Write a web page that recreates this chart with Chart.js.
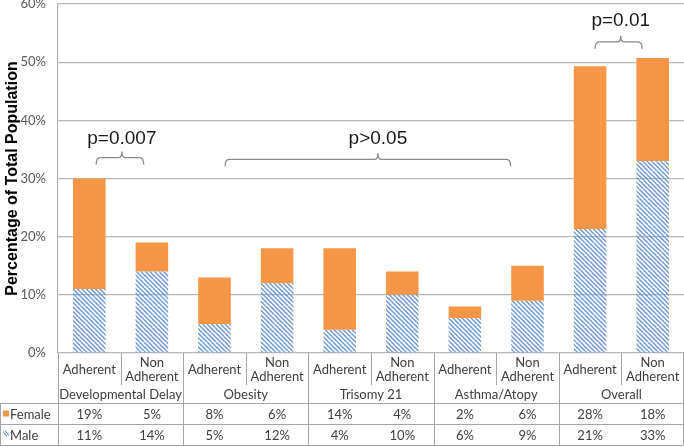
<!DOCTYPE html>
<html>
<head>
<meta charset="utf-8">
<script src="https://cdn.jsdelivr.net/npm/chart.js@4"></script>
<style>
  html, body { margin: 0; padding: 0; background: #fff; }
  canvas { display: block; }
</style>
</head>
<body>
<canvas id="chart" width="684" height="447"></canvas>
<script>
// data
const groups = ['Developmental Delay', 'Obesity', 'Trisomy 21', 'Asthma/Atopy', 'Overall'];
const subLabels = ['Adherent', 'Non Adherent'];
const male = [11, 14, 5, 12, 4, 10, 6, 9, 21.3, 33];
const female = [19, 5, 8, 6, 14, 4, 2, 6, 28, 17.7];
const yMax = 60;
const yStep = 10;
// significance brackets: x in bar index units, y in percent
const brackets = [
  { text: 'p=0.007', from: 0.11, to: 0.87, peak: 0.52, y: 33.6, textY: 36.9 },
  { text: 'p>0.05', from: 2.17, to: 6.73, peak: 4.61, y: 33.3, textY: 36.9 },
  { text: 'p=0.01', from: 8.08, to: 8.83, peak: 8.49, y: 53.5, textY: 57.1 }
];

const labels = [];
groups.forEach(g => subLabels.forEach(s => labels.push(g + ' ' + s)));

const ORANGE = '#f79646';
const HATCH = '#6c98d6';
const LINE = '#a6a6a6';
const TEXT = '#404040';
const TABLE_FONT = '13px Lato';

function hatchPattern() {
  const c = document.createElement('canvas');
  c.width = c.height = 9;
  const g = c.getContext('2d');
  g.strokeStyle = HATCH;
  g.lineWidth = 1.4;
  for (let k = -18; k <= 18; k += 4.5) {
    g.beginPath();
    g.moveTo(k, 0);
    g.lineTo(k + 9, 9);
    g.stroke();
  }
  return g.createPattern(c, 'repeat');
}

const ctx = document.getElementById('chart').getContext('2d');
const malePattern = hatchPattern();

// draws the data table under the plot and the p-value brackets
const extras = {
  id: 'extras',
  afterDraw(chart) {
    const c = chart.ctx;
    const xs = chart.scales.x;
    const ys = chart.scales.y;
    const top = ys.bottom;
    const subBottom = top + 32;
    const groupBottom = top + 50;
    const femBottom = groupBottom + 21;
    const maleBottom = femBottom + 21;
    const right = chart.width - 0.5;
    const bx = i => Math.round(xs.getPixelForValue(i - 0.5)) + 0.5;

    c.save();
    c.strokeStyle = LINE;
    c.lineWidth = 1;
    c.beginPath();
    [groupBottom, femBottom, maleBottom].forEach(y => {
      c.moveTo(0, Math.round(y) + 0.5);
      c.lineTo(right, Math.round(y) + 0.5);
    });
    c.moveTo(0.5, groupBottom);
    c.lineTo(0.5, maleBottom);
    c.moveTo(right, top);
    c.lineTo(right, maleBottom);
    for (let i = 0; i < labels.length; i++) {
      const x = bx(i);
      c.moveTo(x, top);
      c.lineTo(x, i % 2 === 0 ? maleBottom : subBottom);
    }
    c.stroke();

    c.fillStyle = TEXT;
    c.font = TABLE_FONT;
    c.textAlign = 'center';
    c.textBaseline = 'middle';
    for (let i = 0; i < labels.length; i++) {
      const x = xs.getPixelForValue(i);
      const sub = subLabels[i % 2].split(' ');
      if (sub.length === 1) {
        c.fillText(sub[0], x, top + 17);
      } else {
        c.fillText(sub[0], x, top + 10);
        c.fillText(sub[1], x, top + 24);
      }
      c.fillText(Math.round(female[i]) + '%', x, (groupBottom + femBottom) / 2 + 1);
      c.fillText(Math.round(male[i]) + '%', x, (femBottom + maleBottom) / 2 + 1);
    }
    groups.forEach((g, k) => {
      c.fillText(g, xs.getPixelForValue(2 * k + 0.5), (subBottom + groupBottom) / 2 + 1);
    });

    // legend cells
    c.textAlign = 'left';
    c.fillText('Female', 10, (groupBottom + femBottom) / 2 + 1);
    c.fillText('Male', 10, (femBottom + maleBottom) / 2 + 1);
    const fy = (groupBottom + femBottom) / 2;
    c.fillStyle = ORANGE;
    c.fillRect(3, fy - 3, 6, 6);
    const my = (femBottom + maleBottom) / 2;
    c.strokeStyle = HATCH;
    c.lineWidth = 1.2;
    c.beginPath();
    c.moveTo(3, my - 3); c.lineTo(7, my + 2);
    c.moveTo(5, my - 4); c.lineTo(9, my + 1);
    c.stroke();

    // brackets
    c.strokeStyle = '#8a8a8a';
    c.lineWidth = 1.3;
    c.fillStyle = '#1a1a1a';
    c.font = '19px "Liberation Sans"';
    c.textAlign = 'center';
    c.textBaseline = 'middle';
    brackets.forEach(b => {
      const x1 = xs.getPixelForValue(b.from);
      const x2 = xs.getPixelForValue(b.to);
      const xp = xs.getPixelForValue(b.peak);
      const y = ys.getPixelForValue(b.y);
      c.beginPath();
      c.moveTo(x1, y + 7);
      c.quadraticCurveTo(x1, y, x1 + 4, y);
      c.lineTo(xp - 3, y);
      c.quadraticCurveTo(xp, y, xp, y - 6);
      c.quadraticCurveTo(xp, y, xp + 3, y);
      c.lineTo(x2 - 4, y);
      c.quadraticCurveTo(x2, y, x2, y + 7);
      c.stroke();
      c.fillText(b.text, xp, ys.getPixelForValue(b.textY));
    });
    c.restore();
  }
};

new Chart(ctx, {
  type: 'bar',
  data: {
    labels: labels,
    datasets: [{
      label: 'Male',
      data: male,
      backgroundColor: malePattern,
      borderWidth: 0
    }, {
      label: 'Female',
      data: female,
      backgroundColor: ORANGE,
      borderWidth: 0
    }]
  },
  options: {
    responsive: false,
    animation: false,
    devicePixelRatio: 1,
    layout: { padding: { top: 4, right: 0, bottom: 94, left: 0 } },
    datasets: { bar: { categoryPercentage: 1, barPercentage: 0.52 } },
    plugins: {
      legend: { display: false },
      tooltip: { enabled: false }
    },
    scales: {
      x: { stacked: true, display: false },
      y: {
        stacked: true,
        min: 0,
        max: yMax,
        afterFit(scale) {
          scale.width = 58;
          scale.paddingTop = 0;
          scale.paddingBottom = 0;
        },
        ticks: {
          stepSize: yStep,
          padding: 12,
          color: '#595959',
          font: { family: 'Lato', size: 13 },
          callback: v => v + '%'
        },
        grid: { color: '#b8b8b8', lineWidth: 1.2, drawTicks: false },
        border: { display: true, color: '#b8b8b8', width: 1.2 },
        title: {
          display: true,
          text: 'Percentage of Total Population',
          color: '#000',
          font: { family: '"Liberation Sans"', size: 16, weight: 'bold' },
          padding: { top: 3, bottom: 0 }
        }
      }
    }
  },
  plugins: [extras]
});
</script>
</body>
</html>
